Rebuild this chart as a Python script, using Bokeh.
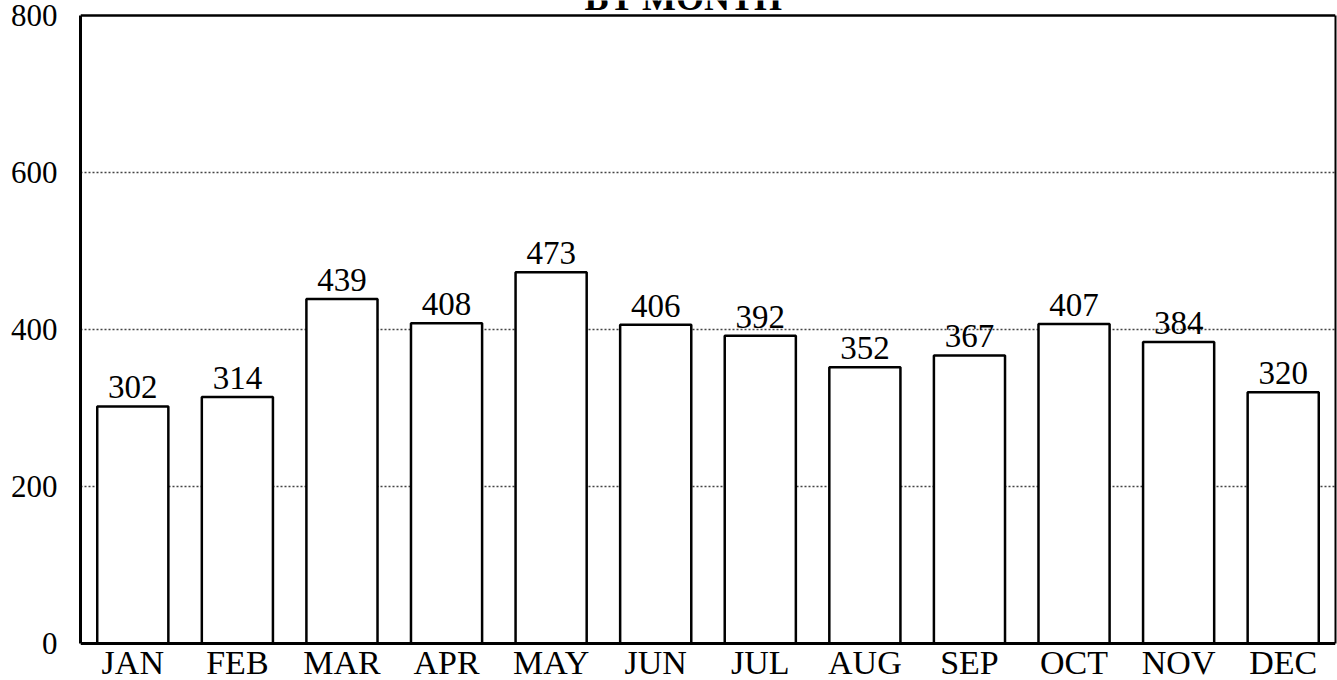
from bokeh.plotting import figure
from bokeh.models import (ColumnDataSource, FixedTicker, Range1d, FactorRange,
                          LinearAxis, Span)
from bokeh.embed import file_html
from bokeh.resources import INLINE
from bokeh.core.properties import value

months = ["JAN", "FEB", "MAR", "APR", "MAY", "JUN", "JUL", "AUG", "SEP", "OCT", "NOV", "DEC"]
counts = [302, 314, 439, 408, 473, 406, 392, 352, 367, 407, 384, 320]
y_ticks = [0, 200, 400, 600, 800]
grid_ticks = [200, 400, 600]
title_text = "BY MONTH"

FONT = "Liberation Serif"
Y_MAX = 800
Y_TOP_VIEW = 819.1    # room above the box for the (cut) title
Y_MIN_VIEW = -47.13   # room below zero for the month labels

src = ColumnDataSource(dict(month=months, count=counts, label=[str(c) for c in counts],
                            zero=[0] * len(months)))
title_src = ColumnDataSource(dict(x=[5.77], y=[822.0], t=[title_text]))

p = figure(x_range=FactorRange(*months, range_padding=0), y_range=Range1d(Y_MIN_VIEW, Y_TOP_VIEW),
           width=1337, height=680, output_backend="svg", toolbar_location=None,
           min_border_left=80, min_border_right=2, min_border_top=0, min_border_bottom=0,
           background_fill_color="white", border_fill_color="white")

p.outline_line_color = None
p.xaxis.visible = False
p.xgrid.visible = False

p.ygrid.ticker = FixedTicker(ticks=grid_ticks)
p.ygrid.grid_line_color = "#444444"
p.ygrid.grid_line_dash = "2 2"
p.ygrid.grid_line_width = 1.5

yax = p.yaxis[0]
yax.ticker = FixedTicker(ticks=y_ticks)
yax.bounds = (0, Y_MAX)
yax.major_tick_out = 0
yax.major_tick_in = 0
yax.minor_tick_out = 0
yax.minor_tick_in = 0
yax.axis_line_width = 3
yax.axis_line_color = "black"
yax.major_label_text_font = FONT
yax.major_label_text_font_size = "31px"
yax.major_label_text_color = "black"
yax.major_label_standoff = 23

# right border of the plot box
rax = LinearAxis(ticker=FixedTicker(ticks=[]), bounds=(0, Y_MAX),
                 major_tick_out=0, major_tick_in=0, minor_tick_out=0, minor_tick_in=0,
                 axis_line_width=2, axis_line_color="black")
p.add_layout(rax, "right")

# bottom (zero) line and top border
p.add_layout(Span(location=0, dimension="width", line_color="black", line_width=3))
p.add_layout(Span(location=Y_MAX, dimension="width", line_color="black", line_width=2.5))

p.vbar(x="month", top="count", width=0.68, source=src,
       fill_color="white", line_color="black", line_width=2.5)

p.text(x="month", y="count", text="label", source=src,
       text_font=value(FONT), text_font_size=value("33px"),
       text_align="center", text_baseline="alphabetic", y_offset=-19,
       text_color="black")

p.text(x="month", y="zero", text="month", source=src,
       text_font=value(FONT), text_font_size=value("34px"),
       text_align="center", text_baseline="top", y_offset=0,
       text_color="black")

p.text(x="x", y="y", text="t", source=title_src,
       text_font=value(FONT), text_font_size=value("36px"), text_font_style="bold",
       text_align="center", text_baseline="alphabetic", text_color="black")

open("out.html", "w").write(file_html(p, INLINE))
